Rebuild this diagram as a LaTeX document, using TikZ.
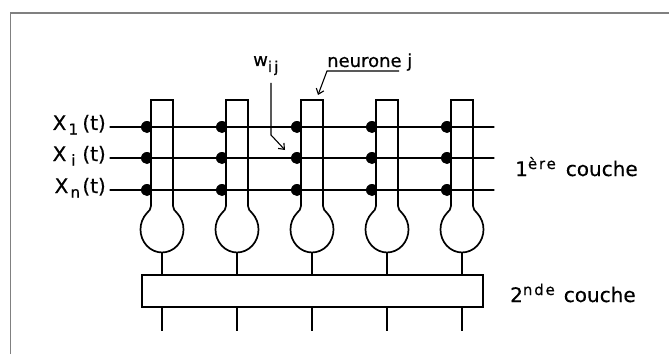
\documentclass[tikz,border=0pt]{standalone}
\usepackage{fontspec}
\setmainfont{DejaVu Sans}[FakeBold=0.5]
\usetikzlibrary{arrows.meta,calc}
\newcommand{\lowsub}[2][12pt]{\makebox[#1][c]{\raisebox{-4.5pt}{\fontsize{15}{15}\selectfont #2}}}
\newcommand{\supr}[1]{\raisebox{7pt}{\fontsize{15}{15}\selectfont\addfontfeature{LetterSpace=12}#1}}
\begin{document}
\begin{tikzpicture}[x=1pt,y=1pt,
  wire/.style={line width=1.1pt, line cap=round},
  stem/.style={line width=1.3pt},
  body/.style={line width=1.7pt, line join=miter},
  lbl/.style={inner sep=0pt, font=\fontsize{20}{24}\selectfont},
  smalllbl/.style={inner sep=0pt, font=\fontsize{18}{22}\selectfont},
  pointer/.style={line width=1.1pt, -{Straight Barb[length=5pt,width=8pt]}},
  frame/.style={draw=black!50, line width=1.8pt}
]
\useasboundingbox (0,0) rectangle (669,354);
% frame (top and left edges)
\draw[frame] (10.5,0) -- (10.5,341) -- (669,341);

% second layer
\node[draw, body, minimum width=341pt, minimum height=32pt, inner sep=0pt] (layer2) at (312.5,63) {};

% neurons
\foreach \i/\cx in {1/162,2/237,3/312,4/387,5/462} {
  \coordinate (top\i) at (\cx,254);
  \coordinate (bot\i) at (\cx,101.5);
  \coordinate (foot\i) at (\cx,23);
  \draw[body] (\cx-11,148) -- (\cx-11,254) -- (\cx+11,254) -- (\cx+11,148)
     to[out=-90,in=133] (\cx+15.2,140.8)
     arc[start angle=45, end angle=-225, x radius=21.5, y radius=23]
     to[out=47,in=-90] (\cx-11,148);
  \foreach \y in {227,196,164} {
    \fill (\cx-11,\y+4.47) arc[start angle=48.2, end angle=311.8, radius=6] -- cycle;
  }
  \draw[stem] (bot\i) -- (bot\i |- layer2.north);
  \draw[stem] (bot\i |- layer2.south) -- (foot\i);
}

% inputs
\node[lbl, anchor=base east] (x1) at (106,224) {X\hspace{1pt}\lowsub{1}\hspace{3pt}(t)};
\node[lbl, anchor=base east] (xi) at (106,193) {X\hspace{1pt}\lowsub{i}\hspace{3pt}(t)};
\node[lbl, anchor=base east] (xn) at (106,161) {X\hspace{1pt}\lowsub{n}\hspace{1pt}(t)};
\coordinate (in1) at (110,227); \coordinate (out1) at (494,227);
\coordinate (in2) at (110,196); \coordinate (out2) at (494,196);
\coordinate (in3) at (110,164); \coordinate (out3) at (494,164);
\draw[wire] (in1) -- (out1);
\draw[wire] (in2) -- (out2);
\draw[wire] (in3) -- (out3);

% w_ij label and pointer
\node[smalllbl, anchor=base west] (wij) at (253,288) {w\raisebox{-6pt}{\fontsize{15}{15}\selectfont\addfontfeature{LetterSpace=15}ij}};
\coordinate (wA) at (271,271);
\coordinate (wB) at (271,219);
\coordinate (wtip) at (285,204);
\draw[pointer] (wA) -- (wB) -- (wtip);

% neurone j label and pointer
\node[smalllbl, anchor=base west] (nj) at (327,287) {neurone j};
\coordinate (ul2) at (399,283);
\coordinate (ul1) at (327,283);
\coordinate (ntip) at (318,259);
\draw[pointer] (ul2) -- (ul1) -- (ntip);

% layer labels
\node[lbl, anchor=base west] (c1) at (515,178) {1\supr{ère}\hspace{10pt}couche};
\node[lbl, anchor=base west] (c2) at (510,52) {2\supr{nde}\hspace{9pt}couche};
\end{tikzpicture}
\end{document}
